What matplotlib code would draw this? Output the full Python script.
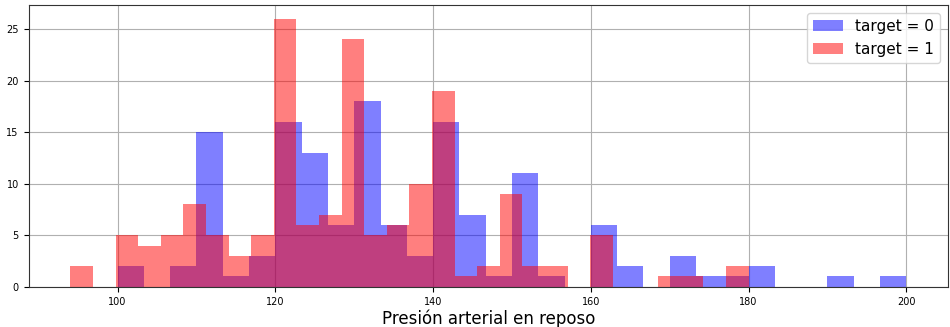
import numpy as np
import matplotlib.pyplot as plt

# counts per bin (30 bins each)
edges_0 = np.linspace(100, 200, 31)
counts_0 = [2, 0, 2, 15, 1, 3, 16, 13, 6, 18, 6, 3, 16, 7, 1,
            11, 1, 0, 6, 2, 0, 3, 1, 1, 2, 0, 0, 1, 0, 1]
edges_1 = np.linspace(94, 180, 31)
counts_1 = [2, 0, 5, 4, 5, 8, 5, 3, 5, 26, 6, 7, 24, 5, 6,
            10, 19, 1, 2, 9, 2, 2, 0, 5, 0, 0, 1, 1, 0, 2]
labels = ['target = 0', 'target = 1']
xlabel = 'Presión arterial en reposo'

fig, ax = plt.subplots(figsize=(9.5, 3.27), dpi=100)
fig.subplots_adjust(left=0.03, right=0.998, top=0.984, bottom=0.123)

centers_0 = (edges_0[:-1] + edges_0[1:]) / 2
centers_1 = (edges_1[:-1] + edges_1[1:]) / 2
ax.hist(centers_0, bins=edges_0, weights=counts_0, color='blue', alpha=0.5, label=labels[0])
ax.hist(centers_1, bins=edges_1, weights=counts_1, color='red', alpha=0.5, label=labels[1])

ax.grid(True, color='#b0b0b0', linewidth=0.8)
ax.set_axisbelow(True)
ax.tick_params(labelsize=7)
for s in ax.spines.values():
    s.set_edgecolor('#333333')
ax.set_xlabel(xlabel, fontsize=12, labelpad=2)
ax.legend(loc='upper right', fontsize=11)

plt.savefig('out.png', dpi=100)
